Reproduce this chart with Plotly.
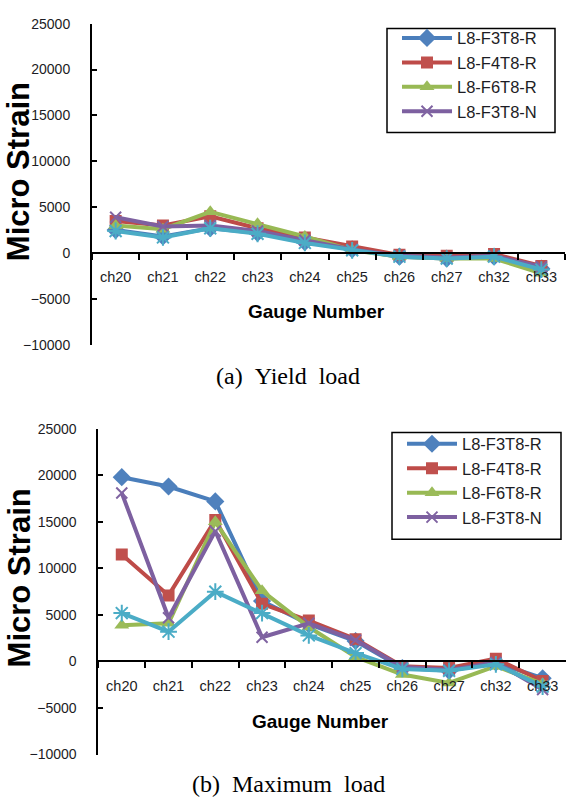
import plotly.graph_objects as go

categories = ["ch20", "ch21", "ch22", "ch23", "ch24", "ch25", "ch26", "ch27", "ch32", "ch33"]
y_ticks = [-10000, -5000, 0, 5000, 10000, 15000, 20000, 25000]

series_names = ["L8-F3T8-R", "L8-F4T8-R", "L8-F6T8-R", "L8-F3T8-N", "Series 5"]

# (a) Yield load
yield_f3t8r = [2500, 1800, 2700, 2200, 1200, 400, -400, -600, -400, -1700]
yield_f4t8r = [3500, 3000, 4000, 2700, 1700, 700, -200, -300, -100, -1400]
yield_f6t8r = [3000, 2600, 4500, 3200, 1800, 300, -400, -600, -600, -2200]
yield_f3t8n = [3900, 2900, 3000, 2400, 1400, 400, -300, -500, -300, -1500]
yield_s5 = [2400, 1700, 2700, 2100, 1100, 300, -400, -600, -400, -1800]

# (b) Maximum load
max_f3t8r = [19800, 18800, 17200, 6500, 4000, 2200, -700, -1000, -100, -1800]
max_f4t8r = [11500, 7100, 15200, 6200, 4400, 2400, -500, -700, 300, -2100]
max_f6t8r = [3900, 4100, 15000, 7600, 3700, 500, -1400, -2300, -500, -2400]
max_f3t8n = [18100, 4700, 14000, 2600, 4100, 2300, -600, -900, -100, -3000]
max_s5 = [5200, 3200, 7500, 5200, 2800, 900, -800, -1000, -300, -2700]

line_colors = ["#4A7EBB", "#BE4B48", "#98B954", "#7D60A0", "#4BACC6"]
marker_colors = ["#4F81BD", "#C0504D", "#9BBB59", "#8064A2", "#4BACC6"]
symbols = ["diamond", "square", "triangle-up", "x-thin-open", "asterisk-open"]
msizes = [14, 12, 13, 11, 14]

W, H = 567, 806
YMIN, YMAX = -10000, 25000


def fx(px):
    return px / W


def fy(py):
    return (H - py) / H


panels = [
    dict(data=[yield_f3t8r, yield_f4t8r, yield_f6t8r, yield_f3t8n, yield_s5],
         xdom=[fx(92), fx(565)], ydom=[fy(343.6), fy(16)],
         box=(387, 21, 555, 127), legend_xy=(397, 13),
         title_x=18.5, title_y=167, xt_x=316, xt_y=310,
         cap="(a)\u00a0\u00a0Yield\u00a0\u00a0load", cap_x=288, cap_y=375),
    dict(data=[max_f3t8r, max_f4t8r, max_f6t8r, max_f3t8n, max_s5],
         xdom=[fx(98.4), fx(566)], ydom=[fy(761.7), fy(429.3)],
         box=(392, 433, 561, 542), legend_xy=(402, 427),
         title_x=19, title_y=582, xt_x=320, xt_y=728,
         cap="(b)\u00a0\u00a0Maximum\u00a0\u00a0load", cap_x=288, cap_y=792),
]

fig = go.Figure()
layout = dict(width=W, height=H, margin=dict(l=0, r=0, t=0, b=0),
              paper_bgcolor="white", plot_bgcolor="rgba(0,0,0,0)", showlegend=True)
annotations = []
shapes = []

tick_font = dict(family="Liberation Sans, Arial", size=14, color="#1c1c24")

for i, p in enumerate(panels):
    xa = "x" if i == 0 else "x%d" % (2 * i + 1)   # x, x3
    ya = "y" if i == 0 else "y%d" % (i + 1)
    legname = "legend" if i == 0 else "legend2"
    for k, vals in enumerate(p["data"]):
        fig.add_trace(go.Scatter(
            x=categories, y=vals, name=series_names[k], mode="lines+markers",
            line=dict(color=line_colors[k], width=4),
            marker=dict(symbol=symbols[k], size=msizes[k], color=marker_colors[k],
                        line=dict(color=marker_colors[k], width=2 if k >= 3 else 0)),
            xaxis=xa, yaxis=ya, legend=legname, showlegend=(k < 4)))
    y0, y1 = p["ydom"]
    zero_pos = y0 + (y1 - y0) * (0 - YMIN) / (YMAX - YMIN)
    xkey = "xaxis" if i == 0 else "xaxis%d" % (2 * i + 1)
    xokey = "xaxis%d" % (2 * i + 2)
    ykey = "yaxis" if i == 0 else "yaxis%d" % (i + 1)
    layout[xkey] = dict(domain=p["xdom"], anchor="free", position=zero_pos, type="category",
                        categoryorder="array", categoryarray=categories, range=[-0.5, 9.5],
                        tickson="boundaries", ticks="outside", ticklen=6, tickwidth=2, tickcolor="black",
                        showline=True, linewidth=2, linecolor="black", showgrid=False, zeroline=False,
                        tickfont=dict(family="Liberation Sans, Arial", size=14.5, color="#1c1c24"),
                        ticklabelstandoff=11)
    layout[xokey] = dict(domain=p["xdom"], anchor="free", position=zero_pos, type="category",
                         overlaying=xa, categoryorder="array", categoryarray=categories, range=[-0.5, 9.5],
                         tickson="boundaries", ticks="inside", ticklen=6, tickwidth=2, tickcolor="black",
                         showticklabels=False, showline=False, showgrid=False, zeroline=False)
    layout[ykey] = dict(domain=p["ydom"], anchor=xa, range=[YMIN, YMAX], tickvals=y_ticks,
                        tickformat="d",
                        ticks="inside", ticklen=5, tickwidth=2, tickcolor="black",
                        showline=True, linewidth=2, linecolor="black", showgrid=False, zeroline=False,
                        tickfont=tick_font, ticklabelstandoff=17)
    lx, ly = p["legend_xy"]
    layout[legname] = dict(x=fx(lx), y=fy(ly), xanchor="left", yanchor="top",
                           borderwidth=0, bgcolor="rgba(0,0,0,0)",
                           font=dict(family="Liberation Sans, Arial", size=16.5, color="#1c1c24"),
                           itemwidth=50, tracegroupgap=0)
    bx0, by0, bx1, by1 = p["box"]
    shapes.append(dict(type="rect", xref="paper", yref="paper", x0=fx(bx0), x1=fx(bx1),
                       y0=fy(by1), y1=fy(by0), line=dict(color="black", width=1.5),
                       fillcolor="white", layer="below"))
    annotations.append(dict(text="<b>Micro Strain</b>", x=fx(p["title_x"]), y=fy(p["title_y"]),
                            xref="paper", yref="paper",
                            textangle=-90, showarrow=False, xanchor="center", yanchor="middle",
                            font=dict(family="Liberation Sans, Arial", size=31, color="black")))
    annotations.append(dict(text="<b>Gauge Number</b>", x=fx(p["xt_x"]), y=fy(p["xt_y"]),
                            xref="paper", yref="paper",
                            showarrow=False, xanchor="center", yanchor="middle",
                            font=dict(family="Liberation Sans, Arial", size=19, color="black")))
    annotations.append(dict(text=p["cap"], x=fx(p["cap_x"]), y=fy(p["cap_y"]), xref="paper", yref="paper",
                            showarrow=False, xanchor="center", yanchor="middle",
                            font=dict(family="Liberation Serif, Times New Roman", size=24, color="black")))

layout["annotations"] = annotations
layout["shapes"] = shapes
fig.update_layout(**layout)
fig.write_html("out.html")
